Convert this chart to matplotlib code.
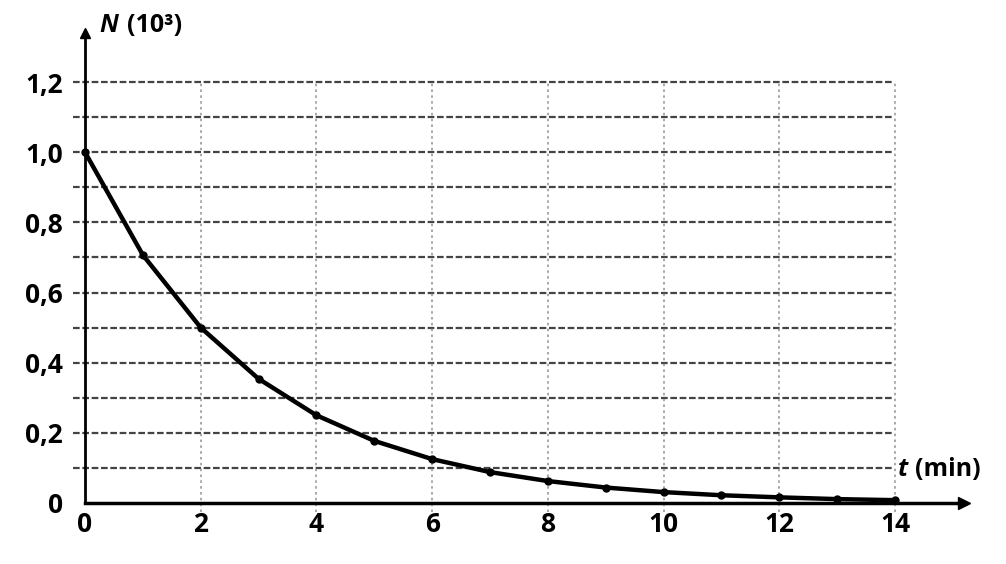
import matplotlib.pyplot as plt

# decay data
t_min = [0, 1, 2, 3, 4, 5, 6, 7, 8, 9, 10, 11, 12, 13, 14]
n_thousand = [1.0, 0.707, 0.5, 0.354, 0.25, 0.177, 0.125, 0.088, 0.0625,
              0.044, 0.031, 0.022, 0.016, 0.011, 0.008]
x_ticks = [0, 2, 4, 6, 8, 10, 12, 14]
y_ticks = [0, 0.2, 0.4, 0.6, 0.8, 1.0, 1.2]
y_labels = ['0', '0,2', '0,4', '0,6', '0,8', '1,0', '1,2']


def main():
    fig = plt.figure(figsize=(10.06, 5.64), dpi=100)
    ax = fig.add_axes([0, 0, 1, 1])
    ax.set_xlim(-1.469, 15.918)
    ax.set_ylim(-0.174, 1.434)

    for s in ['top', 'right']:
        ax.spines[s].set_visible(False)
    ax.spines['left'].set_position(('data', 0))
    ax.spines['bottom'].set_position(('data', 0))
    ax.spines['left'].set_bounds(0, 1.34)
    ax.spines['bottom'].set_bounds(0, 15.2)
    ax.spines['left'].set_linewidth(2)
    ax.spines['bottom'].set_linewidth(2.5)

    # arrow heads
    ax.plot(0, 1.34, marker='^', color='black', markersize=7, clip_on=False)
    ax.plot(15.2, 0, marker='>', color='black', markersize=8, clip_on=False)

    # grid
    for yv in [i / 10 for i in range(1, 13)]:
        ax.plot([-0.2, 13.95], [yv, yv], color='#444444', lw=1.6,
                linestyle=(0, (3, 1.2)))
    for xv in x_ticks[1:]:
        ax.plot([xv, xv], [-0.025, 1.2], color='#999999', lw=1.2,
                linestyle=(0, (1.5, 2)))

    ax.set_xticks(x_ticks)
    ax.set_yticks(y_ticks)
    ax.set_yticklabels(y_labels)
    ax.tick_params(axis='both', length=0, labelsize=19, pad=6)
    ax.tick_params(axis='y', pad=16)
    for lab in ax.get_xticklabels() + ax.get_yticklabels():
        lab.set_fontweight('bold')
        lab.set_family('Open Sans')

    ax.plot(t_min, n_thousand, color='black', lw=3.2, marker='o',
            markersize=5, solid_capstyle='round')

    # axis titles
    ax.text(0.25, 1.36, 'N', fontsize=18, fontweight='bold',
            fontstyle='italic', family='Open Sans', va='center')
    ax.text(0.72, 1.36, '(10³)', fontsize=18, fontweight='bold',
            family='Open Sans', va='center')
    ax.text(14.05, 0.095, 't', fontsize=18, fontweight='bold',
            fontstyle='italic', family='Open Sans', va='center')
    ax.text(14.35, 0.095, '(min)', fontsize=18, fontweight='bold',
            family='Open Sans', va='center')

    fig.savefig('out.png', dpi=100)


if __name__ == "__main__":
    main()
